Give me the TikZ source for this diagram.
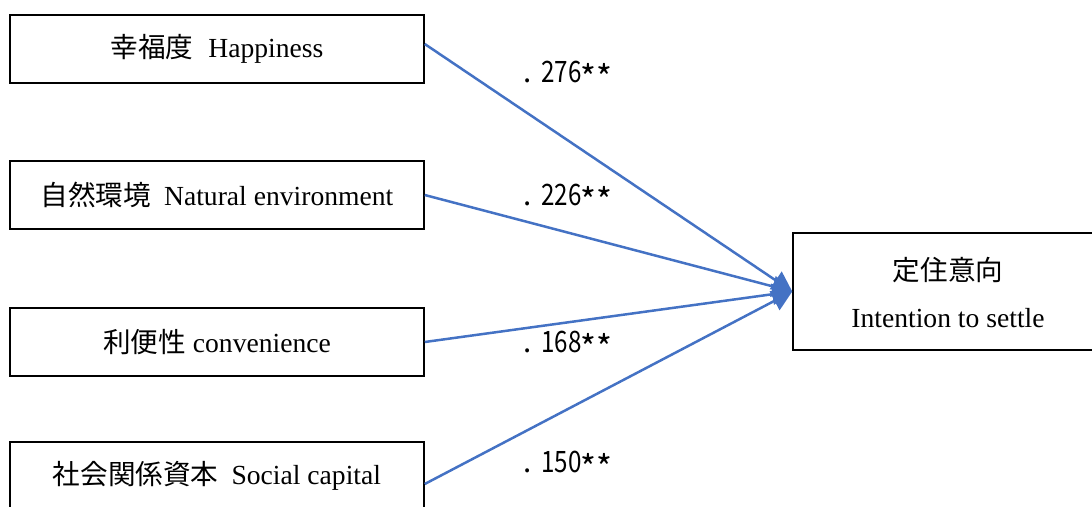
\documentclass[tikz,border=0pt]{standalone}
\usepackage{fontspec}
\usepackage{graphicx}
\setmainfont{Liberation Serif}
\newfontfamily\jp{Noto Sans CJK JP}
\usetikzlibrary{arrows.meta}
\definecolor{lineblue}{HTML}{4472C4}
\newcommand{\stars}{\raisebox{-8pt}{\fontsize{34}{34}\selectfont **}}
\newcommand{\coefval}[1]{.\hspace{10pt}\scalebox{0.82}[1]{#1}\hspace{-1pt}\stars}
\tikzset{
  box/.style={draw=black, line width=1.5pt, minimum width=414pt, minimum height=68pt, inner sep=0pt, font=\fontsize{27.6}{33}\selectfont},
  link/.style={draw=lineblue, line width=2.5pt, -{Triangle[length=20pt,width=21pt]}},
  coef/.style={font=\jp\fontsize{29.5}{32}\selectfont, anchor=base west, inner sep=0pt}
}
\begin{document}
\begin{tikzpicture}[x=1pt,y=-1pt]
\useasboundingbox (0,0) rectangle (1092,506);
\node[box] (b1) at (217,49) {{\jp 幸福度}\hspace{15pt}Happiness};
\node[box] (b2) at (217,195) {{\jp 自然環境}\hspace{13pt}Natural environment};
\node[box] (b3) at (217,342) {{\jp 利便性}\hspace{7pt}convenience};
\node[box] (b4) at (217,476) {{\jp 社会関係資本}\hspace{13pt}Social capital};
\node[box, minimum width=310pt, minimum height=117pt, align=center] (r) at (948,291.5) {};
\node[font=\jp\fontsize{27.6}{33}\selectfont] (rt1) at (948,270) {定住意向};
\node[font=\fontsize{27.6}{33}\selectfont] (rt2) at (948,318) {Intention to settle};
\coordinate (tip) at (r.west);
\draw[link] ([yshift=5pt]b1.east) -- (tip);
\draw[link] (b2.east) -- (tip);
\draw[link] (b3.east) -- (tip);
\draw[link] ([yshift=-8pt]b4.east) -- (tip);
\node[coef] (c1) at (523,82) {\coefval{276}};
\node[coef] (c2) at (523,205) {\coefval{226}};
\node[coef] (c3) at (523,352) {\coefval{168}};
\node[coef] (c4) at (523,472) {\coefval{150}};
\end{tikzpicture}
\end{document}
